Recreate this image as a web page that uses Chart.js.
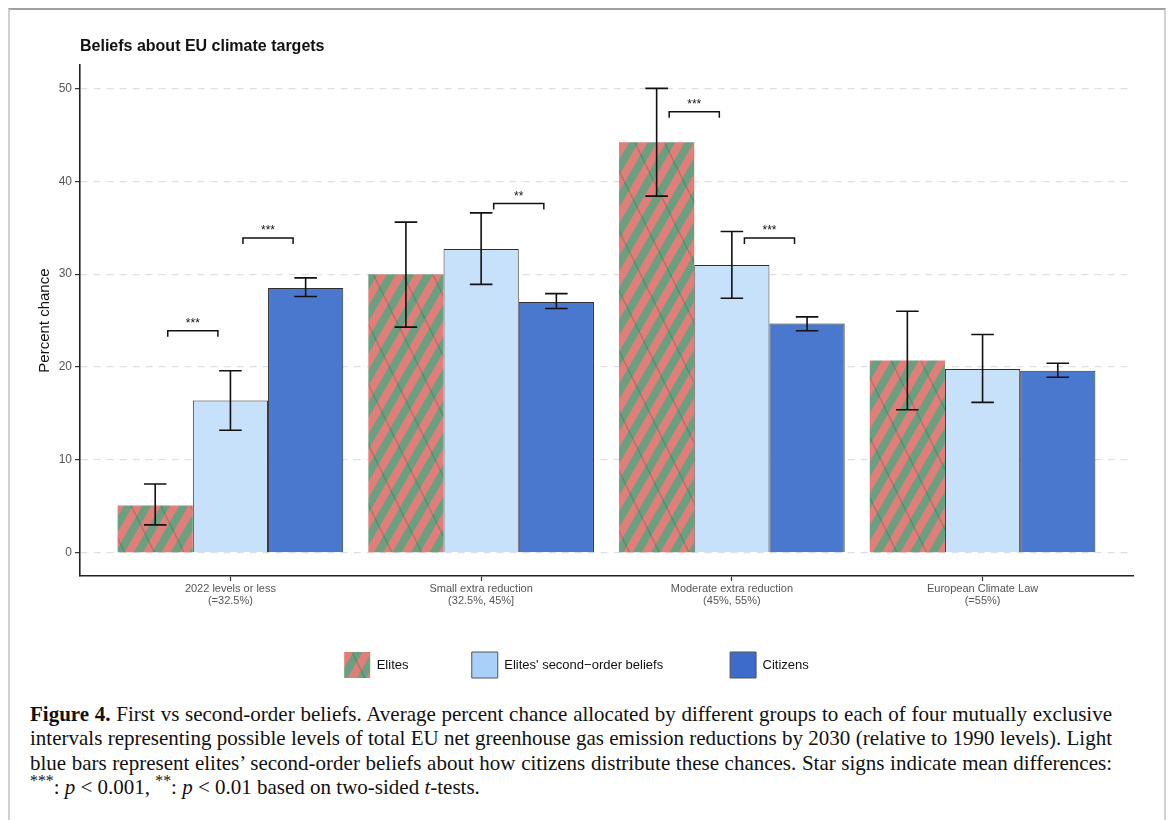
<!DOCTYPE html>
<html>
<head>
<meta charset="utf-8">
<script src="https://cdn.jsdelivr.net/npm/chart.js@4.4.1/dist/chart.umd.min.js"></script>
<style>
    html, body { margin: 0; padding: 0; background: #fff; width: 1171px; height: 820px; overflow: hidden; }
    #frame { position: absolute; left: 8px; top: 8px; width: 1154px; height: 900px; border: 2px solid #d0d0d0; border-top-color: #a0a0a0; }
    #wrap { position: absolute; left: 0; top: 0; width: 1171px; height: 688px; }
    #caption { position: absolute; left: 30px; top: 702px; width: 1082px; font-family: "Liberation Serif", serif; font-size: 21px; line-height: 24.4px; color: #111; white-space: nowrap; }
    #caption .j { text-align: justify; text-align-last: justify; }
    #caption sup { font-size: 0.75em; line-height: 0; }
</style>
</head>
<body>
<div id="frame"></div>
<div id="wrap"><canvas id="beliefsChart"></canvas></div>
<div id="caption">
    <div class="j"><b>Figure 4.</b> First vs second-order beliefs. Average percent chance allocated by different groups to each of four mutually exclusive</div>
    <div class="j">intervals representing possible levels of total EU net greenhouse gas emission reductions by 2030 (relative to 1990 levels). Light</div>
    <div class="j">blue bars represent elites’ second-order beliefs about how citizens distribute these chances. Star signs indicate mean differences:</div>
    <div><sup>***</sup>: <i>p</i> &lt; 0.001, <sup>**</sup>: <i>p</i> &lt; 0.01 based on two-sided <i>t</i>-tests.</div>
</div>

<script>
// --- DATA ---
const categories = [
    ['2022 levels or less', '(=32.5%)'],
    ['Small extra reduction', '(32.5%, 45%]'],
    ['Moderate extra reduction', '(45%, 55%)'],
    ['European Climate Law', '(=55%)']
];
const seriesNames = ['Elites', "Elites' second\u2212order beliefs", 'Citizens'];

const elites      = [5.1, 30.0, 44.2, 20.7];
const elitesLow   = [3.0, 24.3, 38.4, 15.4];
const elitesHigh  = [7.4, 35.6, 50.0, 26.0];

const secondOrder     = [16.4, 32.7, 31.0, 19.8];
const secondOrderLow  = [13.2, 28.9, 27.4, 16.2];
const secondOrderHigh = [19.6, 36.6, 34.6, 23.5];

const citizens     = [28.5, 27.0, 24.7, 19.6];
const citizensLow  = [27.6, 26.3, 23.9, 18.9];
const citizensHigh = [29.6, 27.9, 25.4, 20.4];

const yTicks = [0, 10, 20, 30, 40, 50];

// significance brackets: category, left series of the pair, height, label
const sigCategory = [0, 0, 1, 2, 2];
const sigLeft     = [0, 1, 1, 0, 1];
const sigY        = [23.9, 33.9, 37.6, 47.5, 33.9];
const sigLabel    = ['***', '***', '**', '***', '***'];

// --- STYLE ---
const RED = '#e27e79';
const GREEN = '#6c9f80';
const LIGHT_BLUE = '#c8e1fa';
const BLUE = '#4a78cf';
const FONT = '"Liberation Sans", Arial, sans-serif';

function makeStripes() {
    const tile = document.createElement('canvas');
    tile.width = 48; tile.height = 32;
    const g = tile.getContext('2d');
    for (let x = 0; x < 48; x += 16) {
        g.fillStyle = RED; g.fillRect(x, 0, 8, 32);
        g.fillStyle = GREEN; g.fillRect(x + 8, 0, 8, 32);
    }
    g.strokeStyle = 'rgba(35,85,55,0.55)';
    g.lineWidth = 0.8;
    g.beginPath(); g.moveTo(0, 0); g.lineTo(48, 32); g.stroke();
    const p = document.createElement('canvas').getContext('2d').createPattern(tile, 'repeat');
    p.setTransform(new DOMMatrix().rotateSelf(30));
    return p;
}
const stripes = makeStripes();

const toPoints = arr => arr.map((v, i) => ({ x: i, y: v }));
const lows = [elitesLow, secondOrderLow, citizensLow];
const highs = [elitesHigh, secondOrderHigh, citizensHigh];
const legendColors = [stripes, '#a9d0f8', '#3d6bcc'];
// trailing spaces widen the gap between legend items
const legendGap = [7, 8, 0];

// --- ERROR BARS + BRACKETS ---
const annotations = {
    id: 'annotations',
    afterDatasetsDraw(chart) {
        const { ctx, scales: { x, y } } = chart;
        const unit = x.getPixelForValue(1) - x.getPixelForValue(0);
        ctx.save();
        ctx.strokeStyle = '#111';
        ctx.lineWidth = 1.6;
        // error bars
        lows.forEach((low, d) => {
            chart.getDatasetMeta(d).data.forEach((bar, i) => {
                const lo = y.getPixelForValue(low[i]);
                const hi = y.getPixelForValue(highs[d][i]);
                const cap = unit * 0.045;
                ctx.beginPath();
                ctx.moveTo(bar.x, lo); ctx.lineTo(bar.x, hi);
                ctx.moveTo(bar.x - cap, lo); ctx.lineTo(bar.x + cap, lo);
                ctx.moveTo(bar.x - cap, hi); ctx.lineTo(bar.x + cap, hi);
                ctx.stroke();
            });
        });
        // brackets
        ctx.lineWidth = 1.5;
        ctx.fillStyle = '#111';
        ctx.font = '12px ' + FONT;
        ctx.textAlign = 'center';
        ctx.textBaseline = 'alphabetic';
        sigCategory.forEach((c, k) => {
            const left = chart.getDatasetMeta(sigLeft[k]).data[c];
            const right = chart.getDatasetMeta(sigLeft[k] + 1).data[c];
            const mid = (left.x + right.x) / 2;
            const half = unit * 0.1;
            const py = y.getPixelForValue(sigY[k]);
            ctx.beginPath();
            ctx.moveTo(mid - half, py + 6);
            ctx.lineTo(mid - half, py);
            ctx.lineTo(mid + half, py);
            ctx.lineTo(mid + half, py + 6);
            ctx.stroke();
            ctx.fillText(sigLabel[k], mid, py - 4);
        });
        ctx.restore();
    }
};

new Chart(document.getElementById('beliefsChart'), {
    type: 'bar',
    data: {
        datasets: [
            { label: seriesNames[0], data: toPoints(elites), backgroundColor: stripes, borderWidth: 0 },
            { label: seriesNames[1], data: toPoints(secondOrder), backgroundColor: LIGHT_BLUE, borderColor: '#2f2f2f', borderWidth: 1 },
            { label: seriesNames[2], data: toPoints(citizens), backgroundColor: BLUE, borderColor: '#2f2f2f', borderWidth: 1 }
        ]
    },
    options: {
        responsive: true,
        maintainAspectRatio: false,
        animation: false,
        layout: { padding: { left: 20, right: 38, top: 0, bottom: 0 } },
        datasets: { bar: { categoryPercentage: 0.9, barPercentage: 1 } },
        plugins: {
            tooltip: { enabled: false },
            title: {
                display: true,
                text: 'Beliefs about EU climate targets',
                align: 'start',
                fullSize: false,
                color: '#111',
                font: { family: FONT, size: 16, weight: 'bold' },
                padding: { top: 37, bottom: 9 }
            },
            legend: {
                position: 'bottom',
                labels: {
                    boxWidth: 26,
                    boxHeight: 26,
                    padding: 38,
                    color: '#111',
                    font: { family: FONT, size: 13 },
                    generateLabels(chart) {
                        const items = Chart.defaults.plugins.legend.labels.generateLabels(chart);
                        items.forEach((it, i) => {
                            it.text = it.text + ' '.repeat(legendGap[i]);
                            it.fillStyle = legendColors[i];
                            it.strokeStyle = '#555';
                            it.lineWidth = i === 0 ? 0 : 1;
                        });
                        return items;
                    }
                }
            }
        },
        scales: {
            x: {
                type: 'linear',
                min: -0.6,
                max: 3.6,
                offset: false,
                afterBuildTicks: s => { s.ticks = categories.map((c, i) => ({ value: i })); },
                afterFit: s => { s.height = 38; },
                ticks: {
                    autoSkip: false,
                    maxRotation: 0,
                    padding: 2,
                    color: '#555',
                    font: { family: FONT, size: 11, lineHeight: 1.1 },
                    callback: v => categories[v]
                },
                grid: { offset: false, drawOnChartArea: false, drawTicks: true, tickLength: 5, tickColor: '#333', tickWidth: 1.2 },
                border: { display: true, color: '#222', width: 1.6 }
            },
            y: {
                min: -2.5,
                max: 52.5,
                afterBuildTicks: s => { s.ticks = yTicks.map(v => ({ value: v })); },
                afterFit: s => { s.width = 60; },
                ticks: { padding: 3, color: '#555', font: { family: FONT, size: 12 } },
                grid: { color: '#e0e0e0', lineWidth: 1.2, tickLength: 5, tickColor: '#333', tickWidth: 1.2, tickBorderDash: [] },
                border: { display: true, color: '#222', width: 1.6, dash: [7, 6] },
                title: {
                    display: true,
                    text: 'Percent chance',
                    color: '#111',
                    font: { family: FONT, size: 15 },
                    padding: { top: 16, bottom: 0 }
                }
            }
        }
    },
    plugins: [annotations]
});
</script>
</body>
</html>
